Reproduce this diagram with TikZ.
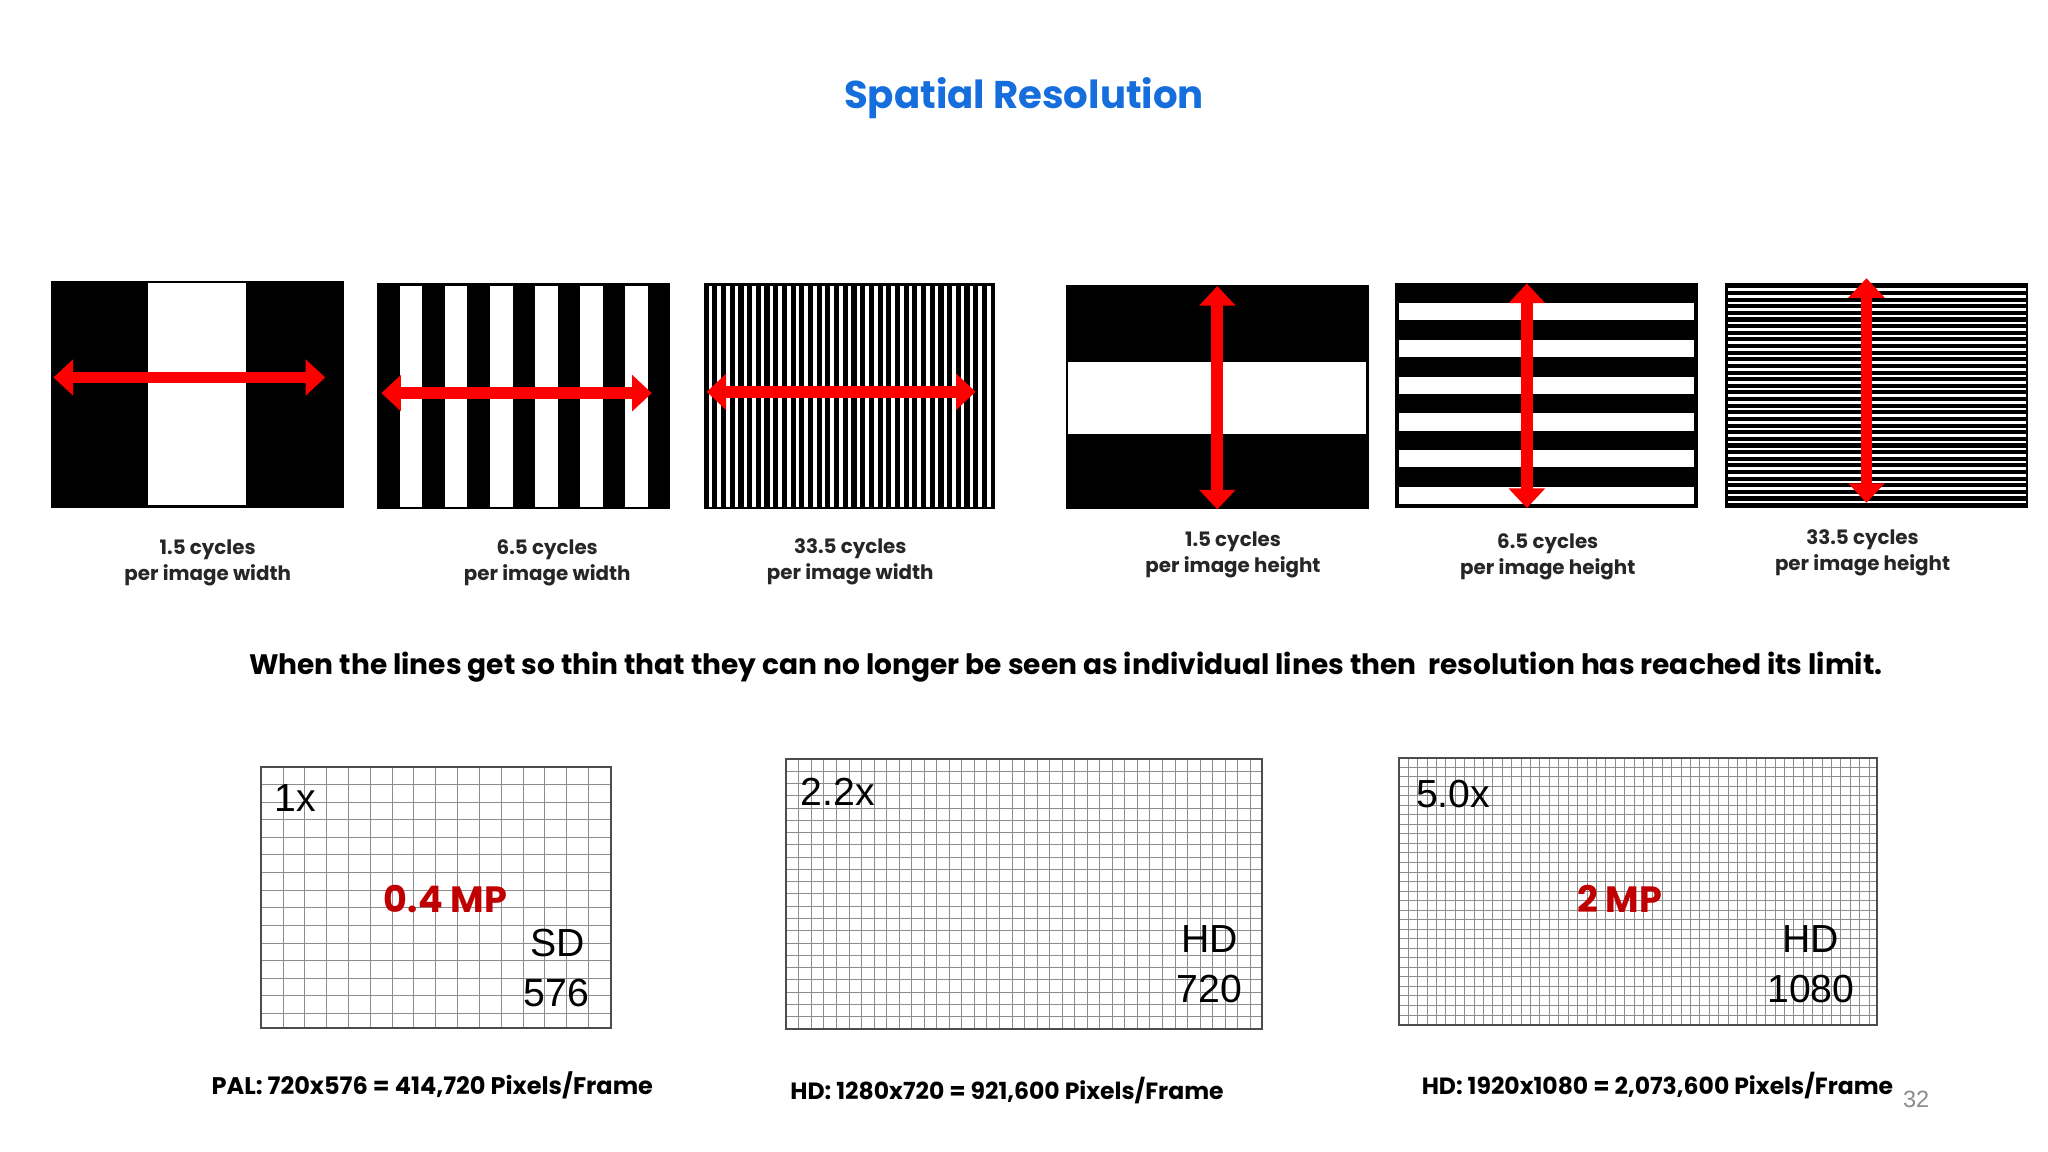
\documentclass[tikz,border=0pt]{standalone}
\usepackage{fontspec}
\setmainfont{Poppins}
\newfontfamily\arial{Liberation Sans}
\usetikzlibrary{arrows.meta}
\definecolor{titleblue}{RGB}{21,110,220}
\definecolor{mpred}{RGB}{192,0,0}
\tikzset{
 redarrow/.style={draw=red,line width=9pt,{Triangle[length=15pt,width=27pt]}-{Triangle[length=15pt,width=27pt]}},
 captxt/.style={font=\fontsize{15.2}{20}\selectfont\bfseries,align=center,text=black!85},
 gridbox/.style={draw=black!70,line width=1.6pt},
 gridl/.style={draw=black!45,line width=0.7pt},
 glab/.style={font=\arial\fontsize{30}{32}\selectfont,inner sep=0pt},
}
\begin{document}
\begin{tikzpicture}[x=1pt,y=-1pt]
\useasboundingbox (0,0) rectangle (1568,882);
\node[text=titleblue,font=\fontsize{29.6}{34}\selectfont\bfseries] (title) at (784,75) {Spatial Resolution};
% panel 1
\fill (39,215) rectangle (263,389);
\fill[white] (113,217) rectangle (188,387);
\coordinate (a1) at (41,289); \coordinate (b1) at (249,289);
\draw[redarrow] (a1) -- (b1);
% panel 2
\fill (289,217) rectangle (513,390);
\foreach \i in {1,3,...,11} \fill[white] ({289+\i*224/13},219) rectangle ({289+(\i+1)*224/13},388);
\coordinate (a2) at (292,301); \coordinate (b2) at (499,301);
\draw[redarrow] (a2) -- (b2);
% panel 3
\fill (539,217) rectangle (762,390);
\foreach \i in {1,3,...,65} \fill[white] ({539+\i*223/67+0.3},219) rectangle ({539+(\i+1)*223/67-0.3},388);
\coordinate (a3) at (541,300); \coordinate (b3) at (747,300);
\draw[redarrow] (a3) -- (b3);
% panel 4
\fill (816,218) rectangle (1048,390);
\fill[white] (818,277) rectangle (1046,332);
\coordinate (a4) at (932,219); \coordinate (b4) at (932,390);
\draw[redarrow] (a4) -- (b4);
% panel 5
\fill (1068,217) rectangle (1300,389);
\foreach \i in {1,3,...,11} \fill[white] (1071,{218+\i*169/12}) rectangle (1297,{218+(\i+1)*169/12-1});
\coordinate (a5) at (1169,217); \coordinate (b5) at (1169,389);
\draw[redarrow] (a5) -- (b5);
% panel 6
\fill (1321,217) rectangle (1553,389);
\foreach \i in {1,3,...,65} \fill[white] (1323,{218+\i*170/67+0.3}) rectangle (1551,{218+(\i+1)*170/67-0.3});
\coordinate (a6) at (1429,213); \coordinate (b6) at (1429,385);
\draw[redarrow] (a6) -- (b6);
% captions
\node[captxt] (c1) at (159,431) {1.5 cycles\\per image width};
\node[captxt] (c2) at (419,431) {6.5 cycles\\per image width};
\node[captxt] (c3) at (651,430) {33.5 cycles\\per image width};
\node[captxt] (c4) at (944,425) {1.5 cycles\\per image height};
\node[captxt] (c5) at (1185,426) {6.5 cycles\\per image height};
\node[captxt] (c6) at (1426,423) {33.5 cycles\\per image height};
\node[font=\fontsize{21.5}{24}\selectfont\bfseries] (msg) at (816,511) {When the lines get so thin that they can no longer be seen as individual lines then\ \ resolution has reached its limit.};
% grids
\begin{scope}
\clip (200,587) rectangle (468,787);
\foreach \x in {200,216.7,...,470} \draw[gridl] (\x,587) -- (\x,787);
\foreach \y in {587,600.5,...,790} \draw[gridl] (200,\y) -- (468,\y);
\end{scope}
\draw[gridbox] (200,587) rectangle (468,787);
\begin{scope}
\clip (602,581) rectangle (966,788);
\foreach \x in {602,611.6,...,970} \draw[gridl] (\x,581) -- (\x,788);
\foreach \y in {581,590.4,...,790} \draw[gridl] (602,\y) -- (966,\y);
\end{scope}
\draw[gridbox] (602,581) rectangle (966,788);
\begin{scope}
\clip (1071,580) rectangle (1437,785);
\foreach \x in {1071,1078.2,...,1440} \draw[gridl] (\x,580) -- (\x,785);
\foreach \y in {580,587.3,...,788} \draw[gridl] (1071,\y) -- (1437,\y);
\end{scope}
\draw[gridbox] (1071,580) rectangle (1437,785);
\node[glab,anchor=west] (g1a) at (210,611) {1x};
\node[glab,anchor=west] (g2a) at (613,606) {2.2x};
\node[glab,anchor=west] (g3a) at (1084,608) {5.0x};
\node[text=mpred,font=\fontsize{28}{30}\selectfont\bfseries] (mp1) at (341,688) {0.4 MP};
\node[text=mpred,font=\fontsize{28}{30}\selectfont\bfseries] (mp3) at (1240,688) {2 MP};
\node[glab,anchor=east] (s1) at (448,722) {SD};
\node[glab,anchor=east] (n1) at (451,760) {576};
\node[glab,anchor=east] (s2) at (948,719) {HD};
\node[glab,anchor=east] (n2) at (951,757) {720};
\node[glab,anchor=east] (s3) at (1408,719) {HD};
\node[glab,anchor=east] (n3) at (1420,757) {1080};
\node[font=\fontsize{18.4}{21}\selectfont\bfseries] (p1) at (331,831) {PAL: 720x576 = 414,720 Pixels/Frame};
\node[font=\fontsize{18}{21}\selectfont\bfseries] (p2) at (771,835) {HD: 1280x720 = 921,600 Pixels/Frame};
\node[font=\fontsize{18}{21}\selectfont\bfseries] (p3) at (1269,831) {HD: 1920x1080 = 2,073,600 Pixels/Frame};
\node[text=black!45,font=\arial\fontsize{18}{20}\selectfont] (pg) at (1467,842) {32};
\end{tikzpicture}
\end{document}
